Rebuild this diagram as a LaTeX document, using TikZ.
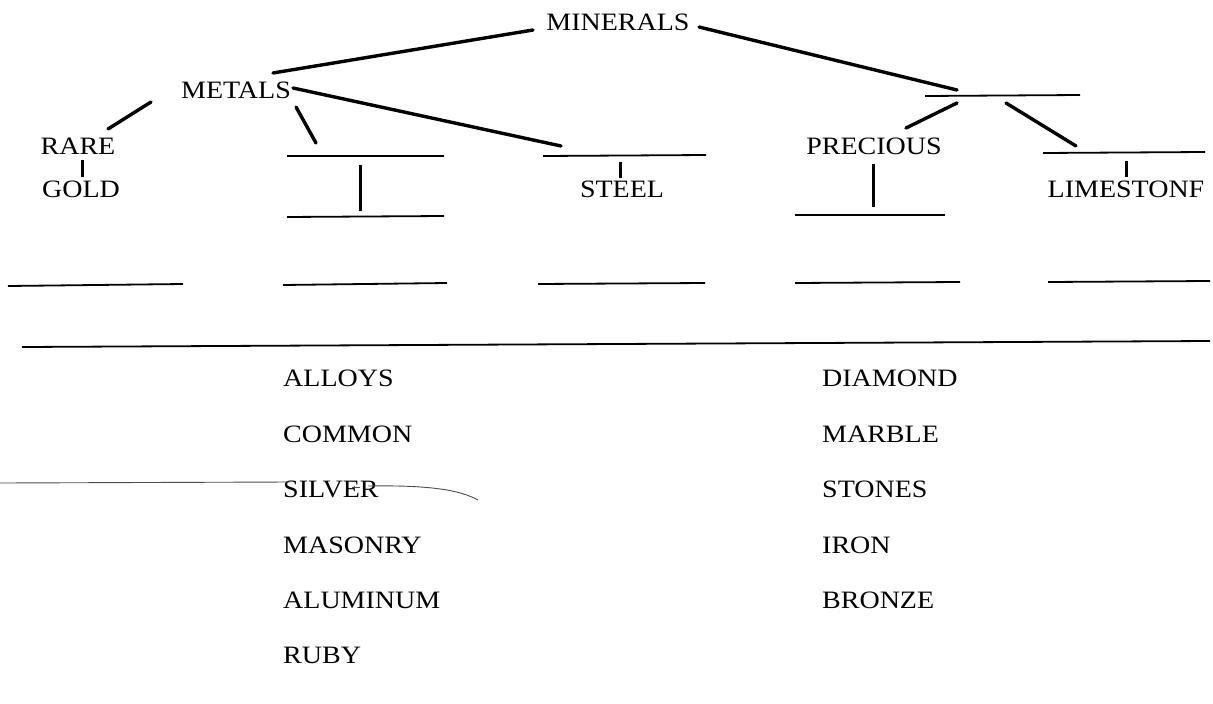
\documentclass[tikz,border=0pt]{standalone}
\usepackage{fontspec}
\setmainfont{Liberation Serif}[FakeStretch=1.12]
\begin{document}
\begin{tikzpicture}[x=1pt,y=-1pt,
  lbl/.style={inner sep=0pt, font=\fontsize{25}{29}\selectfont},
  conn/.style={line width=3.4pt, line cap=round},
  blank/.style={line width=1.8pt},
  tick/.style={line width=3pt},
  faint/.style={line width=0.9pt, black!70}]
\useasboundingbox (0,0) rectangle (1213,704);
\fill[white] (0,0) rectangle (1213,704);
% labels of the tree
\node[lbl] (minerals) at (618,22) {MINERALS};
\node[lbl] (metals) at (236,90) {METALS};
\node[lbl] (rare) at (78,146) {RARE};
\node[lbl] (gold) at (81,189) {GOLD};
\node[lbl] (steel) at (622,189) {STEEL};
\node[lbl] (precious) at (874,146) {PRECIOUS};
\node[lbl] (limestone) at (1126,189) {LIMESTONF};
% word list
\node[lbl, anchor=west] (alloys) at (283,378) {ALLOYS};
\node[lbl, anchor=west] (common) at (283,434) {COMMON};
\node[lbl, anchor=west] (silver) at (283,489) {SILVER};
\node[lbl, anchor=west] (masonry) at (283,545) {MASONRY};
\node[lbl, anchor=west] (aluminum) at (283,600) {ALUMINUM};
\node[lbl, anchor=west] (ruby) at (283,655) {RUBY};
\node[lbl, anchor=west] (diamond) at (822,378) {DIAMOND};
\node[lbl, anchor=west] (marble) at (822,434) {MARBLE};
\node[lbl, anchor=west] (stones) at (822,489) {STONES};
\node[lbl, anchor=west] (iron) at (822,545) {IRON};
\node[lbl, anchor=west] (bronze) at (822,600) {BRONZE};
% blank lines (ends)
\coordinate (b1a) at (287,156); \coordinate (b1b) at (444,156);
\coordinate (b2a) at (543,156); \coordinate (b2b) at (706,155);
\coordinate (b3a) at (925,96);  \coordinate (b3b) at (1080,95);
\coordinate (b4a) at (1043,153); \coordinate (b4b) at (1205,152);
\coordinate (c1a) at (287,217); \coordinate (c1b) at (444,216);
\coordinate (c2a) at (795,215); \coordinate (c2b) at (945,215);
\coordinate (d1a) at (8,286);   \coordinate (d1b) at (183,284);
\coordinate (d2a) at (283,285); \coordinate (d2b) at (447,283);
\coordinate (d3a) at (538,284); \coordinate (d3b) at (705,283);
\coordinate (d4a) at (795,283); \coordinate (d4b) at (960,282);
\coordinate (d5a) at (1048,282); \coordinate (d5b) at (1210,281);
\coordinate (la) at (22,347); \coordinate (lb) at (1210,341);
\foreach \p in {b1,b2,b3,b4,c1,c2,d1,d2,d3,d4,d5}
  \draw[blank] (\p a) -- (\p b);
\draw[blank] (la) -- (lb);
% connector ends
\coordinate (m1) at (533,30);  \coordinate (m2) at (273,73);
\coordinate (m3) at (699,27);  \coordinate (m4) at (957,90);
\coordinate (t1) at (293,88);  \coordinate (t2) at (561,146);
\coordinate (r1) at (151,102); \coordinate (r2) at (108,129);
\coordinate (s1) at (296,107); \coordinate (s2) at (316,143);
\coordinate (p1) at (957,103); \coordinate (p2) at (906,128);
\coordinate (q1) at (1006,103); \coordinate (q2) at (1076,146);
\draw[conn] (m1) -- (m2);
\draw[conn] (m3) -- (m4);
\draw[conn] (t1) -- (t2);
\draw[conn] (r1) -- (r2);
\draw[conn] (s1) -- (s2);
\draw[conn] (p1) -- (p2);
\draw[conn] (q1) -- (q2);
% vertical ticks
\coordinate (v1a) at (82,160);  \coordinate (v1b) at (82,177);
\coordinate (v2a) at (360,165); \coordinate (v2b) at (360,211);
\coordinate (v3a) at (620,162); \coordinate (v3b) at (620,178);
\coordinate (v4a) at (873,164); \coordinate (v4b) at (873,207);
\coordinate (v5a) at (1126,161); \coordinate (v5b) at (1126,177);
\foreach \p in {v1,v2,v3,v4,v5}
  \draw[tick] (\p a) -- (\p b);
% stray scan line through SILVER
\coordinate (sa) at (0,483); \coordinate (sb) at (290,482);
\coordinate (sc) at (352,487); \coordinate (sd) at (360,487);
\coordinate (se) at (368,486); \coordinate (sf) at (478,500);
\draw[faint] (sa) -- (sb);
\draw[faint] (sc) -- (sd);
\draw[faint] (se) .. controls (430,485) and (460,490) .. (sf);
\end{tikzpicture}
\end{document}
